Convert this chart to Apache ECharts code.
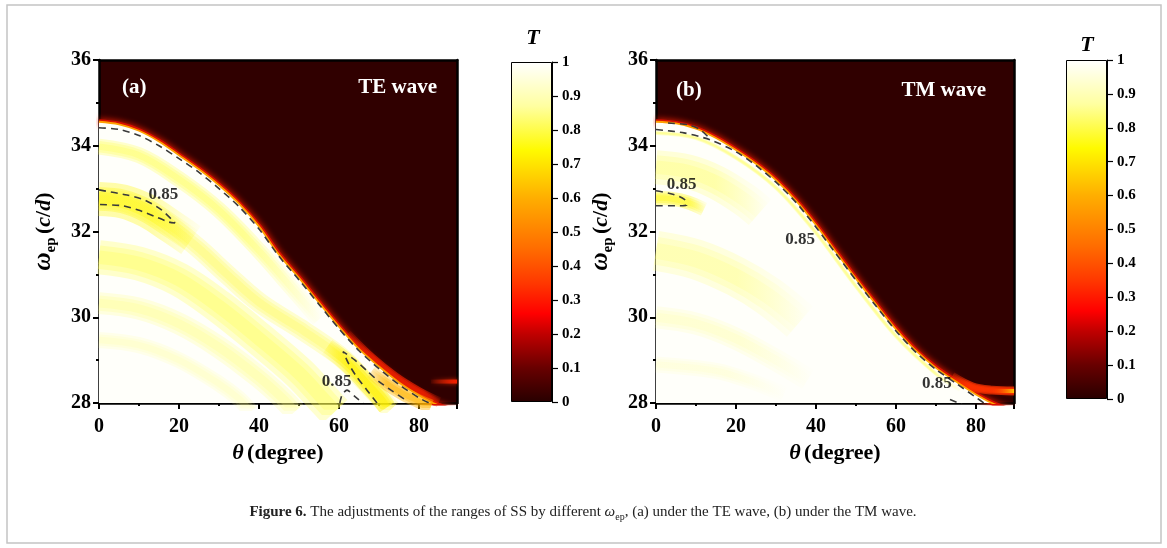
<!DOCTYPE html>
<html>
<head>
<meta charset="utf-8">
<title>Figure 6</title>
<script src="https://cdn.jsdelivr.net/npm/echarts@6/dist/echarts.min.js"></script>
<style>
  html, body { margin: 0; padding: 0; background: #fff; }
  #chart { width: 1167px; height: 548px; }
</style>
</head>
<body>
<div id="chart"></div>
<script>
// all curves are [theta (degree), omega_ep (c/d)] pairs

// ---- panel (a), TE wave ----
var edgeA = [[0,34.56],[5,34.5],[10,34.35],[15,34.1],[20,33.78],[25,33.45],[30,33.08],[35,32.65],[40,32.12],[45,31.46],[50,30.92],[55,30.34],[60,29.78],[65,29.26],[70,28.85],[75,28.48],[80,28.18],[84,27.98],[89.5,27.8]];
var glowA = [[62,29.6],[68,29.05],[74,28.6],[80,28.25],[85,28.02]];
var streakA = [[83,28.5],[89.5,28.5]];
var bandA1 = [[0,33.98],[10,33.78],[20,33.22],[30,32.5],[40,31.55],[48,30.7],[55,29.95]];
var bandA2 = [[0,32.76],[6,32.7],[12,32.48],[18,32.12],[25,31.6],[32,31.0],[40,30.35],[50,29.75],[58,29.25],[62,28.95],[65,28.65],[68,28.35],[71,28.05],[73,27.85]];
var bandA2core = [[0,32.76],[6,32.7],[12,32.48],[18,32.12],[23,31.8]];
var bandA2tail = [[57,29.3],[61,29.02],[64,28.76],[67,28.45],[70,28.15],[72,27.9]];
var bandA3 = [[0,31.4],[10,31.25],[20,30.88],[30,30.25],[40,29.5],[50,28.7],[56,28.1],[59,27.8]];
var bandA4 = [[0,30.33],[10,30.2],[20,29.85],[30,29.3],[40,28.6],[46,28.1],[49,27.8]];
var bandA5 = [[0,29.47],[10,29.35],[20,29.0],[30,28.45],[35,28.1],[38,27.8]];
var hotA = [[68,28.72],[72,28.45],[76,28.22],[80,28.04],[83,27.92]];
var contourA1 = [[0,34.42],[5,34.38],[10,34.24],[15,34.0],[20,33.7],[25,33.38],[30,33.0],[35,32.58],[40,32.06],[45,31.42],[50,30.87],[55,30.3],[60,29.73],[65,29.22],[70,28.8],[75,28.43],[80,28.12],[83,27.98]];
var contourA2 = [[0,32.97],[7,32.85],[11.5,32.73],[15.7,32.5],[19,32.2],[17.5,32.22],[14,32.35],[9.8,32.5],[6,32.6],[0,32.63]];
var contourA3 = [[69.5,28.0],[67,28.3],[64.5,28.6],[62.5,28.9],[61,29.2],[64,29.0],[67,28.75],[70,28.5],[73,28.3],[77,28.05]];
var contourA4 = [[60.2,28.0],[60.8,28.2],[62,28.3],[64,28.15],[66,28.0]];
var labelsA = [[16.1,32.85],[59.4,28.5]];

// ---- panel (b), TM wave ----
var edgeB = [[0,34.56],[5,34.52],[10,34.4],[15,34.18],[20,33.9],[25,33.58],[30,33.2],[35,32.72],[40,32.15],[45,31.52],[50,30.9],[55,30.3],[60,29.72],[65,29.22],[70,28.82],[75,28.5],[80,28.2],[84,28.0],[89.5,27.8]];
var glowB = [[74,28.62],[79,28.38],[84,28.3],[89.5,28.28]];
var streakB = [[84,28.28],[89.5,28.28]];
var bandB1 = [[0,33.5],[8,33.4],[15,33.15],[22,32.75],[26,32.45]];
var bandB2 = [[0,32.78],[4,32.76],[8,32.68],[12,32.52]];
var bandB3 = [[0,31.55],[10,31.35],[20,30.95],[28,30.5],[36,29.9]];
var bandB4 = [[0,30.0],[10,29.85],[20,29.5],[30,29.0],[38,28.55]];
var bandB5 = [[0,28.9],[15,28.75],[24,28.5],[32,28.2]];
var bandB6 = [[0,34.3],[10,34.18],[20,33.72],[30,33.02],[40,31.97],[50,30.72],[60,29.56],[70,28.68],[76,28.3]];
var contourB1 = [[0,34.38],[7,34.3],[13.5,34.14],[20,33.86],[25,33.54],[30,33.15],[35,32.68],[40,32.1],[45,31.48],[50,30.86],[55,30.26],[60,29.68],[65,29.18],[70,28.78],[75,28.46],[80,28.13],[82,28.0]];
var contourB2 = [[3,34.53],[8,34.49],[11,34.38],[13.5,34.16]];
var contourB3 = [[0,32.95],[4.2,32.87],[7.1,32.75],[7.7,32.62],[5.4,32.6],[0,32.6]];
var contourB4 = [[73.5,28.08],[76.5,27.97]];
var labelsB = [[6.4,33.1],[36,31.8],[70.2,28.46]];

var contourLevel = '0.85';

// colour bar: T value -> colour (hot map)
var cmapStops = [[0,'#280000'],[0.1,'#680000'],[0.2,'#c00000'],[0.26,'#ff0000'],[0.35,'#ff3800'],[0.45,'#ff6c00'],[0.6,'#ffae00'],[0.74,'#fffa00'],[0.87,'#ffffa0'],[1,'#ffffff']];
var cbarValue = [1];

// axis ranges
var thetaRange = [0, 89.5];
var omegaRange = [28, 36];

document.addEventListener("DOMContentLoaded", function () {
  var FONT = '"Liberation Serif", "Times New Roman", serif';
  var DARK = '#300000';

  var chart = echarts.init(document.getElementById('chart'), null, {renderer: 'canvas'});

  function lineSeries(idx, data, z, lineStyle, more) {
    var s = {
      type: 'line', xAxisIndex: idx, yAxisIndex: idx, data: data,
      showSymbol: false, symbol: 'none', smooth: 0.35, silent: true,
      animation: false, z: z, lineStyle: lineStyle
    };
    for (var k in more) s[k] = more[k];
    return s;
  }

  function fade(c0, c1) {
    return new echarts.graphic.LinearGradient(0, 0, 1, 0, [
      {offset: 0, color: c0}, {offset: 1, color: c1}
    ]);
  }

  // colour along a fringe, fading in / out at its ends (fractions of its length)
  function bandColor(rgb, a, fi, fo) {
    var c = 'rgba(' + rgb + ',' + a + ')', t = 'rgba(' + rgb + ',0)';
    if (!fi && !fo) return c;
    return new echarts.graphic.LinearGradient(0, 0, 1, 0, [
      {offset: 0, color: fi ? t : c}, {offset: fi || 0, color: c},
      {offset: 1 - (fo || 0), color: c}, {offset: 1, color: fo ? t : c}
    ]);
  }

  // soft fringe: a few stacked strokes, widest first
  function softBand(i, data, z, st) {
    return [1, 0.7, 0.4].map(function (f) {
      return lineSeries(i, data, z, {width: st[0] * f, color: bandColor(st[1], (st[2] / 2.2).toFixed(3), st[3], st[4]), cap: 'butt', join: 'round'});
    });
  }

  function panelSeries(i, p) {
    var s = [];
    // red glow just outside the cutoff edge
    s.push(lineSeries(i, p.edge, 2, {width: 5, color: '#d81000', shadowBlur: 6, shadowColor: '#ff2000'}));
    s = s.concat(softBand(i, p.glow, 2, p.glowStyle));
    s.push(lineSeries(i, p.streak, 2, {width: 4, color: fade('rgba(255,40,0,0)', p.streakColor), shadowBlur: 4, shadowColor: '#ff3000'}, {smooth: false}));
    // transmitting region below the edge
    s.push(lineSeries(i, p.edge, 3, {width: 0}, {areaStyle: {color: '#fffffa', opacity: 1, origin: 'start'}}));
    // yellow fringes
    p.bands.forEach(function (b, k) {
      s = s.concat(softBand(i, b, 4, p.bandStyles[k]));
    });
    s.push(lineSeries(i, p.edge, 5, {width: 1.8, color: '#ffa000'}));
    // T = 0.85 contours
    p.contours.forEach(function (c) {
      s.push(lineSeries(i, c, 6, {width: 1.6, color: '#3a3a3a', type: [7, 5]}, {smooth: 0.25}));
    });
    s.push({
      type: 'scatter', xAxisIndex: i, yAxisIndex: i, data: p.labels,
      symbolSize: 1, itemStyle: {color: 'rgba(0,0,0,0)'}, silent: true, z: 8,
      animation: false,
      label: {show: true, position: 'inside', formatter: contourLevel,
        fontFamily: FONT, fontWeight: 'bold', fontSize: 17, color: '#000'}
    });
    return s;
  }

  function mainX(grid) {
    return {
      type: 'value', gridIndex: grid, min: thetaRange[0], max: thetaRange[1], interval: 20,
      name: '{t|θ} {n|(degree)}', nameLocation: 'middle', nameGap: 21,
      nameTextStyle: {rich: {
        t: {fontFamily: FONT, fontSize: 22, fontWeight: 'bold', fontStyle: 'italic', color: '#000'},
        n: {fontFamily: FONT, fontSize: 22, fontWeight: 'bold', color: '#000'}
      }},
      axisLine: {onZero: false, lineStyle: {color: '#000', width: 2.5}},
      axisTick: {length: 6, lineStyle: {color: '#000', width: 2}},
      minorTick: {show: true, splitNumber: 2, length: 3, lineStyle: {color: '#000', width: 2}},
      axisLabel: {margin: 14, showMaxLabel: false, fontFamily: FONT, fontWeight: 'bold', fontSize: 20, color: '#000'},
      splitLine: {show: false}
    };
  }

  function mainY(grid) {
    return {
      type: 'value', gridIndex: grid, min: omegaRange[0], max: omegaRange[1], interval: 2,
      name: '{w|ω}{s|ep} {n|(}{i|c}{n|/}{i|d}{n|)}', nameLocation: 'middle', nameGap: 40,
      nameTextStyle: {rich: {
        w: {fontFamily: FONT, fontSize: 25, fontWeight: 'bold', fontStyle: 'italic', color: '#000', lineHeight: 30},
        s: {fontFamily: FONT, fontSize: 15, fontWeight: 'bold', color: '#000', verticalAlign: 'bottom', lineHeight: 30},
        n: {fontFamily: FONT, fontSize: 22, fontWeight: 'bold', color: '#000', lineHeight: 30},
        i: {fontFamily: FONT, fontSize: 22, fontWeight: 'bold', fontStyle: 'italic', color: '#000', lineHeight: 30}
      }},
      axisLine: {onZero: false, lineStyle: {color: '#000', width: 2.5}},
      axisTick: {length: 6, lineStyle: {color: '#000', width: 2}},
      minorTick: {show: true, splitNumber: 2, length: 3, lineStyle: {color: '#000', width: 2}},
      axisLabel: {margin: 8, fontFamily: FONT, fontWeight: 'bold', fontSize: 20, color: '#000'},
      splitLine: {show: false}
    };
  }

  function frameAxis(grid, pos, range) {
    return {
      type: 'value', gridIndex: grid, position: pos, min: range[0], max: range[1],
      axisLine: {show: true, onZero: false, lineStyle: {color: '#000', width: 2.5}},
      axisTick: {show: false}, axisLabel: {show: false}, splitLine: {show: false}
    };
  }

  function cbarX(grid) {
    return {type: 'category', gridIndex: grid, data: ['T'], show: false};
  }

  function cbarY(grid) {
    return {
      type: 'value', gridIndex: grid, position: 'right', min: 0, max: 1, interval: 0.1,
      axisLine: {show: true, lineStyle: {color: '#000', width: 1}},
      axisTick: {show: true, length: 6, lineStyle: {color: '#000', width: 1.2}},
      axisLabel: {margin: 10, fontFamily: FONT, fontWeight: 'bold', fontSize: 15, color: '#000',
        formatter: function (v) { return (v === 0 || v === 1) ? String(v) : v.toFixed(1); }},
      splitLine: {show: false}
    };
  }

  function cbarSeries(i) {
    return {
      type: 'bar', xAxisIndex: i, yAxisIndex: i, data: cbarValue, barWidth: '100%',
      silent: true, animation: false,
      itemStyle: {
        borderColor: '#000', borderWidth: 1,
        color: new echarts.graphic.LinearGradient(0, 1, 0, 0, cmapStops.map(function (c) {
          return {offset: c[0], color: c[1]};
        }))
      }
    };
  }

  // style rows: [width px, rgb, peak opacity, fade-in fraction, fade-out fraction]
  var panelA = {
    edge: edgeA, glow: glowA, glowStyle: [10, '230,30,0', 1.6, 0.3, 0.2],
    streak: streakA, streakColor: '#ff2000',
    bands: [bandA1, bandA2, bandA2core, bandA2tail, bandA3, bandA4, bandA5, hotA],
    bandStyles: [
      [16, '255,255,80', 0.6, 0, 0.35],
      [20, '255,252,60', 0.5, 0, 0],
      [34, '255,248,30', 0.8, 0, 0.45],
      [18, '255,240,0', 0.85, 0.35, 0],
      [34, '255,255,80', 0.6, 0, 0],
      [22, '255,255,120', 0.45, 0, 0],
      [16, '255,255,140', 0.3, 0, 0],
      [14, '255,180,0', 0.9, 0.3, 0]
    ],
    contours: [contourA1, contourA2, contourA3, contourA4],
    labels: labelsA
  };

  var panelB = {
    edge: edgeB, glow: glowB, glowStyle: [9, '255,50,0', 1.6, 0.3, 0],
    streak: streakB, streakColor: '#ffe000',
    bands: [bandB1, bandB2, bandB3, bandB4, bandB5, bandB6],
    bandStyles: [
      [34, '255,255,100', 0.5, 0, 0.45],
      [14, '255,248,30', 0.85, 0, 0.35],
      [40, '255,255,110', 0.45, 0, 0.45],
      [22, '255,255,140', 0.3, 0, 0.45],
      [16, '255,255,150', 0.22, 0, 0.45],
      [4, '255,255,90', 0.6, 0, 0.1]
    ],
    contours: [contourB1, contourB2, contourB3, contourB4],
    labels: labelsB
  };

  var whiteText = {fill: '#fff', fontFamily: FONT, fontWeight: 'bold', fontSize: 21};

  function txt(x, y, text, align, style) {
    var st = {text: text, x: x, y: y, textAlign: align, textVerticalAlign: 'middle'};
    for (var k in style) st[k] = style[k];
    return {type: 'text', silent: true, z: 100, style: st};
  }

  var option = {
    backgroundColor: '#fff',
    animation: false,
    grid: [
      {left: 99, top: 60, width: 358, height: 343, show: true, backgroundColor: DARK, borderWidth: 0},
      {left: 656, top: 60, width: 358, height: 343, show: true, backgroundColor: DARK, borderWidth: 0},
      {left: 511, top: 62, width: 41, height: 340},
      {left: 1066, top: 60, width: 41, height: 339}
    ],
    xAxis: [mainX(0), mainX(1), cbarX(2), cbarX(3),
      frameAxis(0, 'top', thetaRange), frameAxis(1, 'top', thetaRange)],
    yAxis: [mainY(0), mainY(1), cbarY(2), cbarY(3),
      frameAxis(0, 'right', omegaRange), frameAxis(1, 'right', omegaRange)],
    series: panelSeries(0, panelA).concat(panelSeries(1, panelB)).concat([cbarSeries(2), cbarSeries(3)]),
    graphic: {elements: [
      {type: 'rect', silent: true, z: -1, shape: {x: 7, y: 5, width: 1154, height: 538},
        style: {fill: 'none', stroke: '#c4c4c4', lineWidth: 1.5}},
      txt(122, 88, '(a)', 'left', whiteText),
      txt(437, 88, 'TE wave', 'right', whiteText),
      txt(676, 91, '(b)', 'left', whiteText),
      txt(986, 91, 'TM wave', 'right', whiteText),
      txt(533, 38, 'T', 'center', {fill: '#000', fontFamily: FONT, fontWeight: 'bold', fontStyle: 'italic', fontSize: 22}),
      txt(1087, 45, 'T', 'center', {fill: '#000', fontFamily: FONT, fontWeight: 'bold', fontStyle: 'italic', fontSize: 22}),
      txt(583, 512, '{b|Figure 6.} The adjustments of the ranges of SS by different {w|ω}{s|ep}, (a) under the TE wave, (b) under the TM wave.', 'center', {
        fill: '#222', fontFamily: FONT, fontSize: 15,
        rich: {
          b: {fontFamily: FONT, fontSize: 15, fontWeight: 'bold', fill: '#222'},
          w: {fontFamily: FONT, fontSize: 15, fontStyle: 'italic', fill: '#222'},
          s: {fontFamily: FONT, fontSize: 10, fill: '#222', verticalAlign: 'bottom', lineHeight: 20}
        }
      })
    ]}
  };

  chart.setOption(option);
});
</script>
</body>
</html>
